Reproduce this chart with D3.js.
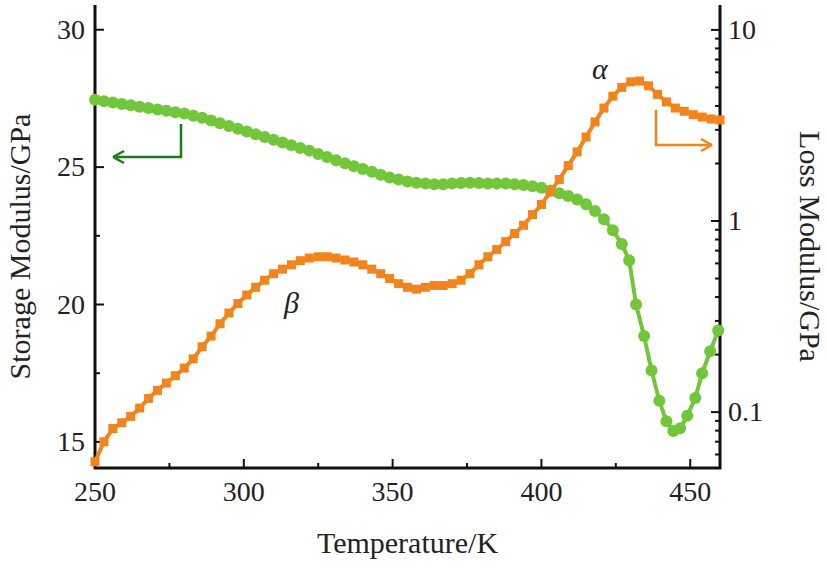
<!DOCTYPE html><html><head><meta charset="utf-8"><script src="https://d3js.org/d3.v7.min.js"></script>
<style>body{margin:0;background:#fff}text{font-family:"Times New Roman","Liberation Serif",Times,serif;fill:#222}</style></head><body>
<svg id="c" width="827" height="570"></svg>
<script>
const storageT=[250,253,256,259,262,265,268,271,274,277,280,283,286,289,292,295,298,301,304,307,310,313,316,319,322,325,328,331,334,337,340,343,346,349,352,355,358,361,364,367,370,373,376,379,382,385,388,391,394,397,400,403,406,409,412,415,418,421,424,427,429.5,431.8,434.5,437,439.6,442,444.3,446.6,449,451.7,454,456.7,459.4];
const storageV=[27.45,27.4,27.35,27.3,27.25,27.2,27.15,27.1,27.05,27.0,26.95,26.87,26.8,26.7,26.6,26.5,26.4,26.3,26.2,26.1,26.0,25.9,25.8,25.7,25.6,25.48,25.37,25.25,25.14,25.03,24.93,24.83,24.72,24.62,24.55,24.48,24.43,24.4,24.38,24.38,24.4,24.42,24.43,24.42,24.4,24.4,24.4,24.38,24.35,24.3,24.25,24.15,24.05,23.95,23.82,23.65,23.4,23.1,22.7,22.2,21.6,20.0,18.85,17.6,16.5,15.75,15.4,15.5,15.95,16.6,17.5,18.3,19.05];
const lossT=d3.range(250,461,3);
const lossV=[.055,.07,.082,.088,.095,.105,.118,.13,.142,.155,.17,.19,.22,.25,.29,.33,.37,.41,.45,.49,.53,.56,.59,.62,.64,.65,.65,.64,.625,.61,.59,.56,.53,.5,.47,.45,.44,.45,.46,.46,.47,.49,.53,.59,.65,.71,.78,.86,.95,1.08,1.22,1.42,1.65,1.95,2.3,2.75,3.3,3.9,4.5,5.0,5.35,5.4,5.1,4.6,4.2,3.9,3.75,3.6,3.5,3.42,3.38];
const xTicks=[250,300,350,400,450], yLTicks=[15,20,25,30], yRTicks=[0.1,1,10];
const svg=d3.select("#c");
const L=95,R=720,T=5,B=468;
const x=d3.scaleLinear().domain([250,460]).range([L,R]);
const yL=d3.scaleLinear().domain([14.05,30.9]).range([B,T]);
const yR=d3.scaleLog().domain([0.051,13.5]).range([B,T]);
const ax="#111";
const g=svg.append("g");
d3.range(275,460,50).forEach(t=>g.append("line").attr("x1",x(t)).attr("x2",x(t)).attr("y1",B).attr("y2",B-5).attr("stroke",ax).attr("stroke-width",2));
xTicks.forEach(t=>{g.append("line").attr("x1",x(t)).attr("x2",x(t)).attr("y1",B).attr("y2",B-9).attr("stroke",ax).attr("stroke-width",2);
 g.append("text").attr("x",x(t)).attr("y",B+33).attr("text-anchor","middle").attr("font-size",28).text(t);});
d3.range(17.5,30,5).forEach(t=>g.append("line").attr("x1",L).attr("x2",L+5).attr("y1",yL(t)).attr("y2",yL(t)).attr("stroke",ax).attr("stroke-width",2));
yLTicks.forEach(t=>{g.append("line").attr("x1",L).attr("x2",L+9).attr("y1",yL(t)).attr("y2",yL(t)).attr("stroke",ax).attr("stroke-width",2);
 g.append("text").attr("x",L-10).attr("y",yL(t)+9).attr("text-anchor","end").attr("font-size",28).text(t);});
const minors=[];[0.01,0.1,1].forEach(d=>{for(let k=2;k<10;k++)minors.push(d*k)});
minors.filter(v=>v>0.051&&v<13.5).forEach(v=>g.append("line").attr("x1",R).attr("x2",R-5).attr("y1",yR(v)).attr("y2",yR(v)).attr("stroke",ax).attr("stroke-width",2));
yRTicks.forEach(t=>{g.append("line").attr("x1",R).attr("x2",R-9).attr("y1",yR(t)).attr("y2",yR(t)).attr("stroke",ax).attr("stroke-width",2);
 g.append("text").attr("x",R+8).attr("y",yR(t)+9).attr("font-size",28).text(t);});
svg.append("path").attr("d",`M${L},${T}V${B}H${R}V${T}`).attr("fill","none").attr("stroke",ax).attr("stroke-width",3);
const cg="#72c63a", co="#f2841c";
const sd=storageT.map((t,i)=>[t,storageV[i]]), ld=lossT.map((t,i)=>[t,lossV[i]]);
svg.append("path").attr("d",d3.line().x(d=>x(d[0])).y(d=>yL(d[1]))(sd)).attr("fill","none").attr("stroke",cg).attr("stroke-width",4);
svg.selectAll(".g").data(sd).join("circle").attr("cx",d=>x(d[0])).attr("cy",d=>yL(d[1])).attr("r",6).attr("fill",cg);
svg.append("path").attr("d",d3.line().x(d=>x(d[0])).y(d=>yR(d[1]))(ld)).attr("fill","none").attr("stroke",co).attr("stroke-width",4);
svg.selectAll(".o").data(ld).join("rect").attr("x",d=>x(d[0])-4.5).attr("y",d=>yR(d[1])-4.5).attr("width",9).attr("height",9).attr("fill",co);
const dg="#1b7a1b";
svg.append("path").attr("d","M181,124V157H116").attr("fill","none").attr("stroke",dg).attr("stroke-width",2.5);
svg.append("path").attr("d","M113,157L124,151M113,157L124,163").attr("stroke",dg).attr("stroke-width",2.5);
svg.append("path").attr("d","M656,110V145H709").attr("fill","none").attr("stroke",co).attr("stroke-width",2.5);
svg.append("path").attr("d","M712,145L701,139M712,145L701,151").attr("stroke",co).attr("stroke-width",2.5);
svg.append("text").attr("x",592).attr("y",79).attr("font-size",30).attr("font-style","italic").text("α");
svg.append("text").attr("x",284).attr("y",313).attr("font-size",30).attr("font-style","italic").text("β");
svg.append("text").attr("x",(L+R)/2).attr("y",553).attr("text-anchor","middle").attr("font-size",30).text("Temperature/K");
svg.append("text").attr("transform",`translate(30,${(T+B)/2+10}) rotate(-90)`).attr("text-anchor","middle").attr("font-size",30).text("Storage Modulus/GPa");
svg.append("text").attr("transform",`translate(800,${(T+B)/2+10}) rotate(90)`).attr("text-anchor","middle").attr("font-size",30).text("Loss Modulus/GPa");
</script></body></html>
